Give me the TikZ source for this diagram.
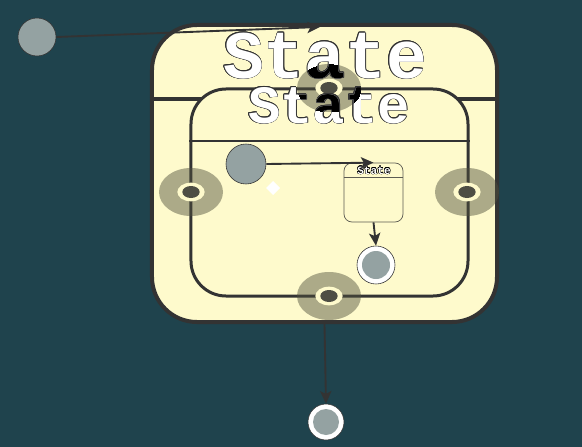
\documentclass[tikz,border=0pt]{standalone}
\usepackage{fontspec}
\newfontfamily\statefont{Liberation Mono}
\usepackage{tikz}
\usetikzlibrary{positioning}
\usetikzlibrary{arrows.meta}
\definecolor{bgteal}{RGB}{31,67,77}
\definecolor{cream}{RGB}{254,250,204}
\definecolor{edge}{RGB}{51,51,51}
\definecolor{pebble}{RGB}{148,162,162}
\definecolor{halo}{RGB}{80,80,60}
\definecolor{hole}{RGB}{78,78,68}

\begin{document}
\begin{tikzpicture}[x=0.03cm, y=-0.03cm,
    statebox/.style={draw=edge, fill=cream, rectangle},
    startdot/.style={circle, draw=edge, fill=pebble, inner sep=0pt, line width=0.5pt},
    enddot/.style={circle, draw=edge, fill=white, inner sep=0pt, line width=0.5pt},
    endcore/.style={circle, fill=pebble, inner sep=0pt},
    flow/.style={draw=edge, line width=1.6pt, -{Stealth[length=3.8mm, width=3.4mm, inset=0.9mm]}},
    bigtitle/.style={font=\statefont\bfseries\fontsize{58}{60}\selectfont, anchor=base, inner sep=0pt},
    midtitle/.style={font=\statefont\bfseries\fontsize{46}{48}\selectfont, anchor=base, inner sep=0pt},
    tinytitle/.style={font=\statefont\bfseries\fontsize{9.5}{10}\selectfont, anchor=base, inner sep=0pt}]
    \fill[bgteal] (0,0) rectangle (582,447);
    \useasboundingbox (0,0) rectangle (582,447);

    % outer composite state
    \node[statebox, line width=0.12cm, rounded corners=1.35cm, minimum width=10.35cm, minimum height=8.91cm] (outer) at (324.5,173.5) {};
    \coordinate (ohead) at (0,99);
    \draw[edge, line width=0.1cm] (outer.west |- ohead) -- (outer.east |- ohead);

    % inner composite state
    \node[statebox, line width=0.09cm, rounded corners=1.05cm, minimum width=8.31cm, minimum height=6.21cm] (inner) at (329.5,192.5) {};
    \coordinate (ihead) at (0,141);
    \draw[edge, line width=0.08cm] (inner.west |- ihead) -- (inner.east |- ihead);

    % entry and exit points
    \foreach \px/\py in {329/88, 191/192, 467/192, 329/296} {
        \fill[halo, opacity=0.47] (\px,\py) ellipse [x radius=0.96cm, y radius=0.72cm];
        \fill[cream] (\px,\py) ellipse [x radius=0.41cm, y radius=0.28cm];
        \fill[hole] (\px,\py) ellipse [x radius=0.26cm, y radius=0.18cm];
    }

    % simple state
    \node[statebox, line width=0.6pt, draw=edge!80!cream, rounded corners=0.24cm, minimum width=1.77cm, minimum height=1.77cm] (simple) at (373.5,192.5) {};
    \coordinate (shead) at (0,177);
    \draw[edge!80!cream, line width=0.6pt] (simple.west |- shead) -- (simple.east |- shead);

    % titles
    \foreach \a in {0,30,...,330} {
        \node[bigtitle, text=edge, shift={(\a:0.55pt)}] at (325,78) {State};
        \node[midtitle, text=edge, shift={(\a:0.5pt)}] at (329,123) {State};
        \node[tinytitle, text=black, shift={(\a:0.3pt)}] at (374,174) {State};
    }
    \node[bigtitle, text=white] (otitle) at (325,78) {State};
    \node[midtitle, text=white] (ititle) at (329,123) {State};
    \node[tinytitle, text=white] (stitle) at (374,174) {State};
    \begin{scope}
        \clip (329,88) ellipse [x radius=0.96cm, y radius=0.72cm];
        \node[bigtitle, text=black] at (otitle.base) {State};
        \node[midtitle, text=black] at (ititle.base) {State};
    \end{scope}

    % pseudo states
    \node[startdot, minimum size=1.14cm] (ostart) at (37,37) {};
    \node[startdot, minimum size=1.2cm] (istart) at (246,164) {};
    \node[enddot, minimum size=1.14cm] (ifinal) at (376,265) {};
    \node[endcore, minimum size=0.84cm] (ifinalcore) at (ifinal) {};
    \node[enddot, minimum size=1.08cm] (ofinal) at (326,422) {};
    \node[endcore, minimum size=0.78cm] (ofinalcore) at (ofinal) {};
    \fill[white] (273,181) -- (280,188) -- (273,195) -- (266,188) -- cycle;

    % transitions
    \coordinate (otop) at (320,27);
    \draw[flow] (ostart.east) -- (otop);
    \draw[flow] (istart.east) -- (simple.north);
    \draw[flow] (simple.south) -- (ifinal.north);
    \draw[flow] (outer.south) -- (ofinal.north);
\end{tikzpicture}
\end{document}
